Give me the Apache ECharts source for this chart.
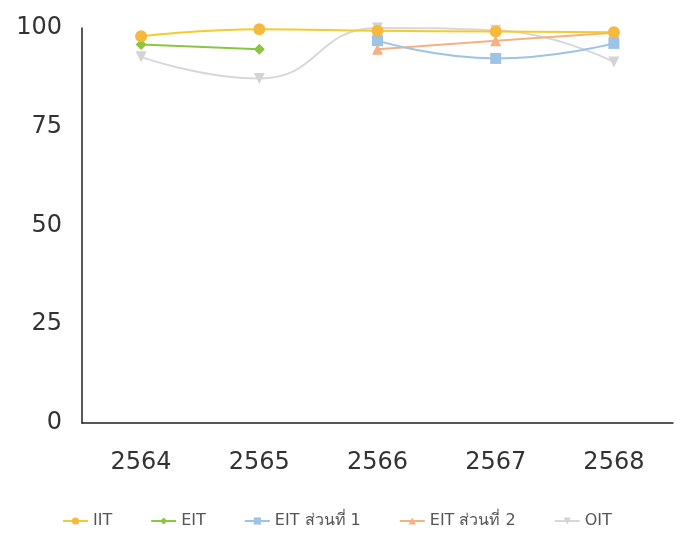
<!DOCTYPE html>
<html><head><meta charset="utf-8">
<script src="https://cdn.jsdelivr.net/npm/echarts@6/dist/echarts.min.js"></script>
<style>html,body{margin:0;padding:0;background:#fff}#c{width:685px;height:535px}</style>
</head><body><div id="c"></div>
<script>
const categories = ['2564','2565','2566','2567','2568'];
const iit = [97.9, 99.7, 99.3, 99.1, 98.9];
const eit = [95.8, 94.6, null, null, null];
const eit1 = [null, null, 96.8, 92.3, 96.1];
const eit2 = [null, null, 94.6, 96.8, 98.8];
const oit = [92.7, 87.2, 100, 99.4, 91.4];
const yTicks = [0, 25, 50, 75, 100];

const axisFont = '"DejaVu Sans", "Noto Sans", sans-serif';
const legendFont = '"DejaVu Sans", "Noto Sans", sans-serif';
function s(name, data, color, lineColor, symbol, size, rotate) {
  return {
    name, type: 'line', data, smooth: 0.5, connectNulls: false,
    symbol, symbolSize: size, symbolRotate: rotate || 0, showSymbol: true,
    itemStyle: { color: color },
    lineStyle: { color: lineColor, width: 2 },
    emphasis: { disabled: true }
  };
}
const chart = echarts.init(document.getElementById('c'));
chart.setOption({
  animation: false,
  grid: { left: 82, right: 12, top: 28, bottom: 112 },
  xAxis: {
    type: 'category', data: categories, boundaryGap: true,
    axisLine: { lineStyle: { color: '#222', width: 1.5 } },
    axisTick: { show: false },
    axisLabel: { color: '#333', fontSize: 24, margin: 28, fontFamily: axisFont }
  },
  yAxis: {
    type: 'value', min: 0, max: 100, interval: 25,
    axisLine: { show: true, lineStyle: { color: '#222', width: 1.5 } },
    axisTick: { show: false },
    splitLine: { show: false },
    axisLabel: { color: '#333', fontSize: 24, margin: 20, fontFamily: axisFont,
      formatter: v => yTicks.includes(v) ? String(v) : '' }
  },
  legend: {
    bottom: 1, left: 57, itemGap: 38, itemWidth: 25, itemHeight: 9,
    textStyle: { color: '#555', fontSize: 16, fontFamily: legendFont },
    data: ['IIT','EIT','EIT ส่วนที่ 1','EIT ส่วนที่ 2','OIT']
  },
  series: [
    s('OIT', oit, '#d4d4d6', '#d8d8da', 'triangle', 11, 180),
    s('EIT ส่วนที่ 2', eit2, '#f4b183', '#f4b183', 'triangle', 11),
    s('EIT ส่วนที่ 1', eit1, '#9dc3e6', '#9dc3e6', 'rect', 11),
    s('EIT', eit, '#8cc63f', '#8cc63f', 'diamond', 11),
    s('IIT', iit, '#f6b93b', '#f3cb2e', 'circle', 12)
  ]
});
</script></body></html>
